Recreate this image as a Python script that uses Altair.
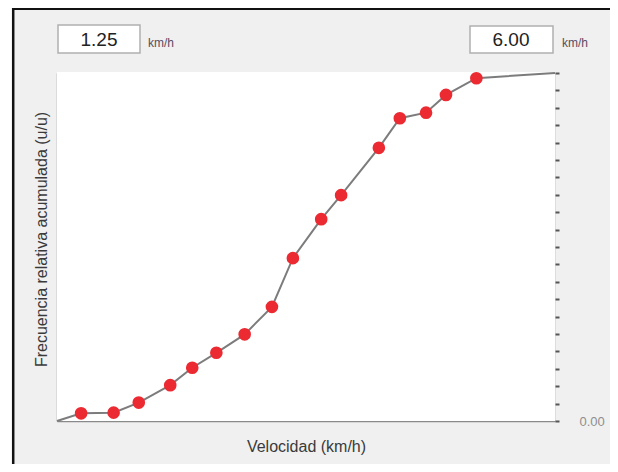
import altair as alt
import pandas as pd

# ---- data ----
speed = [1.48, 1.79, 2.03, 2.33, 2.54, 2.77, 3.04, 3.30, 3.50, 3.77, 3.96, 4.32, 4.52, 4.77, 4.96, 5.25]
cum_freq = [0.022, 0.024, 0.053, 0.103, 0.153, 0.196, 0.249, 0.328, 0.468, 0.580, 0.649, 0.785, 0.870, 0.886, 0.937, 0.985]
range_min = 1.25
range_max = 6.00
y_ticks = [0.0, 0.05, 0.1, 0.15, 0.2, 0.25, 0.3, 0.35, 0.4, 0.45, 0.5,
           0.55, 0.6, 0.65, 0.7, 0.75, 0.8, 0.85, 0.9, 0.95, 1.0]
unit = "km/h"

FONT = "Liberation Sans"
W, H = 498, 348

line_df = pd.DataFrame({
    "v": [range_min] + speed + [range_max],
    "f": [0.0] + cum_freq + [1.0],
})
pts_df = pd.DataFrame({"v": speed, "f": cum_freq})
one = pd.DataFrame({"a": [0]})

xscale = alt.Scale(domain=[range_min, range_max], nice=False, zero=False)
yscale = alt.Scale(domain=[0, 1], nice=False, zero=False)

x_axis = alt.Axis(
    title="Velocidad (km/h)", labels=False, ticks=False, grid=False,
    domainColor="#8a8a8a", domainWidth=1.5,
    titleFont=FONT, titleFontSize=16, titleFontWeight="normal", titleColor="#3a3a3a",
    titleX=W / 2, titleY=25, titleAlign="center", titleBaseline="middle",
)

line = alt.Chart(line_df).mark_line(color="#7c7c7c", strokeWidth=2).encode(
    x=alt.X("v:Q", scale=xscale, axis=x_axis),
    y=alt.Y("f:Q", scale=yscale, axis=alt.Axis(
        orient="left", title="Frecuencia relativa acumulada (u/u)",
        labels=False, ticks=False, grid=False,
        domainColor="#9a9a9a", domainWidth=1.5,
        titleFont=FONT, titleFontSize=16, titleFontWeight="normal", titleColor="#3a3a3a",
        titleAngle=270, titleX=-16, titleY=166, titleAlign="center", titleBaseline="middle",
    )),
)

points = alt.Chart(pts_df).mark_circle(color="#ec2a32", opacity=1, size=160).encode(
    x=alt.X("v:Q", scale=xscale, axis=x_axis),
    y=alt.Y("f:Q", scale=yscale, axis=alt.Axis(
        orient="right", values=y_ticks, title="", domain=False, grid=False,
        tickSize=4, tickColor="#555555", tickWidth=2,
        labelExpr="datum.value == 0 ? '0.00' : ''",
        labelColor="#8e8e8e", labelFontSize=13, labelFont=FONT, labelPadding=20,
    )),
)

# ---- UI decoration (frame, input boxes, plot background) ----
plot_bg = alt.Chart(one).mark_rect(color="white").encode(
    x=alt.value(0), x2=alt.value(W), y=alt.value(-1), y2=alt.value(H))
white_strip = alt.Chart(one).mark_rect(color="white").encode(
    x=alt.value(-49), x2=alt.value(-45), y=alt.value(-66), y2=alt.value(400))
frame_top = alt.Chart(one).mark_rule(color="#111111", strokeWidth=2.5).encode(
    x=alt.value(-45), x2=alt.value(560), y=alt.value(-64.3))
frame_left = alt.Chart(one).mark_rule(color="#111111", strokeWidth=2.5).encode(
    x=alt.value(-43.8), y=alt.value(-65.5), y2=alt.value(400))

box_min = alt.Chart(one).mark_rect(fill="white", stroke="#b0b0b0", strokeWidth=1.5).encode(
    x=alt.value(1), x2=alt.value(83), y=alt.value(-48), y2=alt.value(-20))
box_max = alt.Chart(one).mark_rect(fill="white", stroke="#b0b0b0", strokeWidth=1.5).encode(
    x=alt.value(413), x2=alt.value(496), y=alt.value(-47), y2=alt.value(-20))
txt_min = alt.Chart(one).mark_text(text=f"{range_min:.2f}", font=FONT, fontSize=19, color="#222222",
                                   align="center", baseline="middle").encode(
    x=alt.value(42), y=alt.value(-33))
txt_max = alt.Chart(one).mark_text(text=f"{range_max:.2f}", font=FONT, fontSize=19, color="#222222",
                                   align="center", baseline="middle").encode(
    x=alt.value(454), y=alt.value(-33))
unit_min = alt.Chart(one).mark_text(text=unit, font=FONT, fontSize=12, color="#5b4b5e",
                                    align="left", baseline="middle").encode(
    x=alt.value(91), y=alt.value(-30))
unit_max = alt.Chart(one).mark_text(text=unit, font=FONT, fontSize=12, color="#5b4b5e",
                                    align="left", baseline="middle").encode(
    x=alt.value(505), y=alt.value(-30))

chart = alt.layer(
    plot_bg, white_strip, frame_top, frame_left,
    box_min, box_max, txt_min, txt_max, unit_min, unit_max,
    line, points,
).resolve_axis(y="independent").properties(
    width=W, height=H,
    autosize=alt.AutoSizeParams(type="none"),
    padding={"left": 49, "top": 65, "right": 55, "bottom": 43},
    background="#f0f0f0",
).configure_view(stroke="transparent").configure(font=FONT)

chart.save("out.html", embed_options={"renderer": "svg", "actions": False})
